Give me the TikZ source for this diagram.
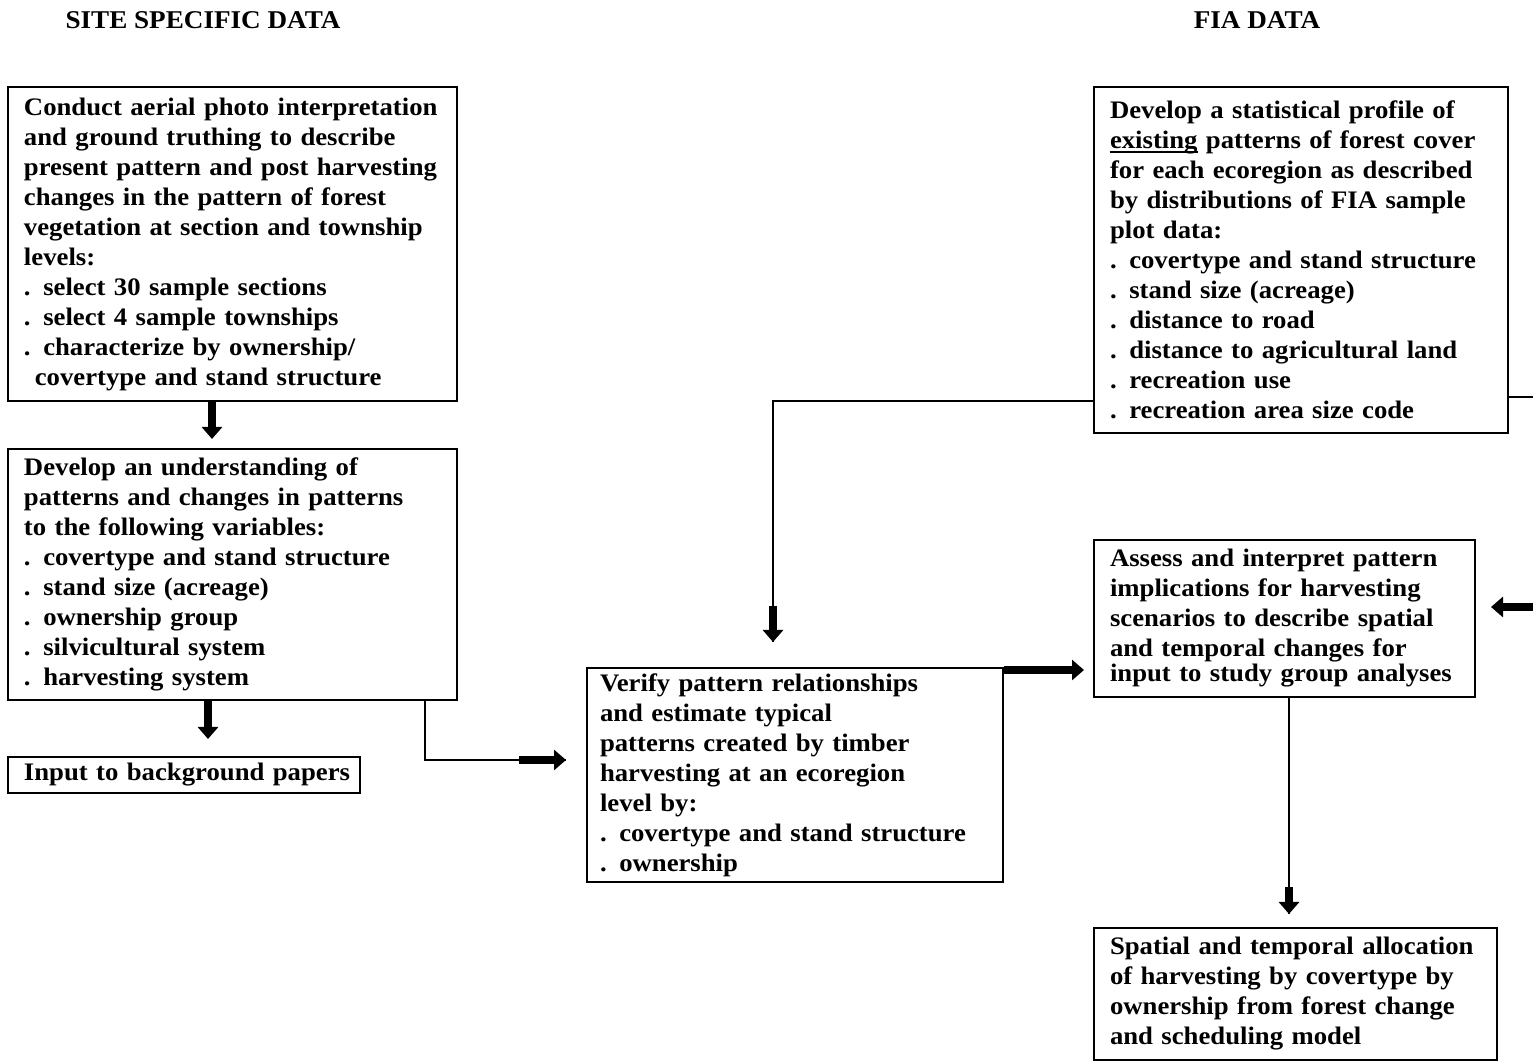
\documentclass[tikz,border=0pt]{standalone}
\usepackage{fontspec}
\setmainfont[FakeStretch=1.06]{Liberation Serif}
\usetikzlibrary{calc,arrows.meta}
\newcommand{\ml}[1]{\mbox{#1}}
\newcommand{\myul}[1]{\setbox0\hbox{#1}\rlap{\rule[-2pt]{\wd0}{0.9pt}}\box0\relax}
\begin{document}
\begin{tikzpicture}[x=0.5pt,y=-0.5pt,
  box/.style={draw,line width=1pt,align=left,inner ysep=0pt,
    font=\fontsize{12.6}{15}\selectfont\bfseries},
  thinline/.style={line width=1pt},
  fat/.style={line width=4pt,-{Triangle[width=10pt,length=6pt]}},
  hdr/.style={font=\fontsize{12.8}{14}\selectfont\bfseries}]
\useasboundingbox (0,0) rectangle (1533,1063);
\node[hdr] (h1) at (203,20) {SITE SPECIFIC DATA};
\node[hdr] (h2) at (1257,20) {FIA DATA};

\node[box,inner xsep=8pt,text width=208.5pt,minimum height=157pt] (A) at (232.5,244) {%
\ml{Conduct aerial photo interpretation}\\
\ml{and ground truthing to describe}\\
\ml{present pattern and post harvesting}\\
\ml{changes in the pattern of forest}\\
\ml{vegetation at section and township}\\
\ml{levels:}\\
\ml{. select 30 sample sections}\\
\ml{. select 4 sample townships}\\
\ml{. characterize by ownership/}\\
\ml{\phantom{.}\,covertype and stand structure}};

\node[box,inner xsep=8pt,text width=208.5pt,minimum height=125.5pt] (B) at (232.5,574.5) {%
\ml{Develop an understanding of}\\
\ml{patterns and changes in patterns}\\
\ml{to the following variables:}\\
\ml{. covertype and stand structure}\\
\ml{. stand size (acreage)}\\
\ml{. ownership group}\\
\ml{. silvicultural system}\\
\ml{. harvesting system}};

\node[box,inner xsep=8pt,text width=160pt,minimum height=18pt] (C) at (184,775) {%
\ml{Input to background papers}};

\node[box,inner xsep=6.5pt,text width=195pt,minimum height=107pt] (D) at (795,775) {%
\ml{Verify pattern relationships}\\
\ml{and estimate typical}\\
\ml{patterns created by timber}\\
\ml{harvesting at an ecoregion}\\
\ml{level by:}\\
\ml{. covertype and stand structure}\\
\ml{. ownership}};

\node[box,inner xsep=8pt,text width=191pt,minimum height=173pt] (E) at (1301,260) {%
\ml{Develop a statistical profile of}\\
\ml{\myul{existing} patterns of forest cover}\\
\ml{for each ecoregion as described}\\
\ml{by distributions of FIA sample}\\
\ml{plot data:}\\
\ml{. covertype and stand structure}\\
\ml{. stand size (acreage)}\\
\ml{. distance to road}\\
\ml{. distance to agricultural land}\\
\ml{. recreation use}\\
\ml{. recreation area size code}};

\node[box,inner xsep=8pt,text width=174.5pt,minimum height=78.5pt] (F) at (1284.5,618.5) {%
\ml{Assess and interpret pattern}\\
\ml{implications for harvesting}\\
\ml{scenarios to describe spatial}\\
\ml{and temporal changes for}\\[-2.5pt]
\ml{input to study group analyses}};

\node[box,inner xsep=8pt,text width=185.5pt,minimum height=66pt] (G) at (1295.5,994) {%
\ml{Spatial and temporal allocation}\\
\ml{of harvesting by covertype by}\\
\ml{ownership from forest change}\\
\ml{and scheduling model}};

% A -> B
\draw[fat] ($(A.south)+(-20.5,0)$) -- ($(B.north)+(-20.5,-9)$);
% B -> C
\draw[fat] ($(B.south)+(-24.5,0)$) -- ($(C.north)+(24,-17)$);
% B -> D
\coordinate (b1) at ($(B.south east)+(-33,0)$);
\coordinate (b2) at ($(D.west)+(-20,-15)$);
\draw[thinline] (b1) |- (b2);
\draw[fat] ($(b2)+(-47,0)$) -- (b2);
% E -> D
\coordinate (e1) at ($(E.west)+(0,141)$);
\coordinate (e2) at ($(D.north)+(-22,-25)$);
\draw[thinline] (e1) -| (e2);
\draw[fat] ($(e2)+(0,-36)$) -- (e2);
% D -> F
\coordinate (d1) at ($(D.north east)+(0,3)$);
\draw[fat,shorten >=4.5pt] (d1) -- (d1 -| F.west);
% F -> G
\coordinate (f1) at ($(F.south)+(4.5,0)$);
\coordinate (f2) at ($(G.north)+(-6.5,-13)$);
\draw[thinline] (f1) -- (f2);
\draw[fat] ($(f2)+(0,-27)$) -- (f2);
% right edge
\coordinate (r1) at (1533,397);
\draw[thinline] (E.east |- r1) -- (r1);
\coordinate (r2) at (1533,607);
\draw[fat,shorten >=7.5pt] (r2) -- (F.east |- r2);
\end{tikzpicture}
\end{document}
